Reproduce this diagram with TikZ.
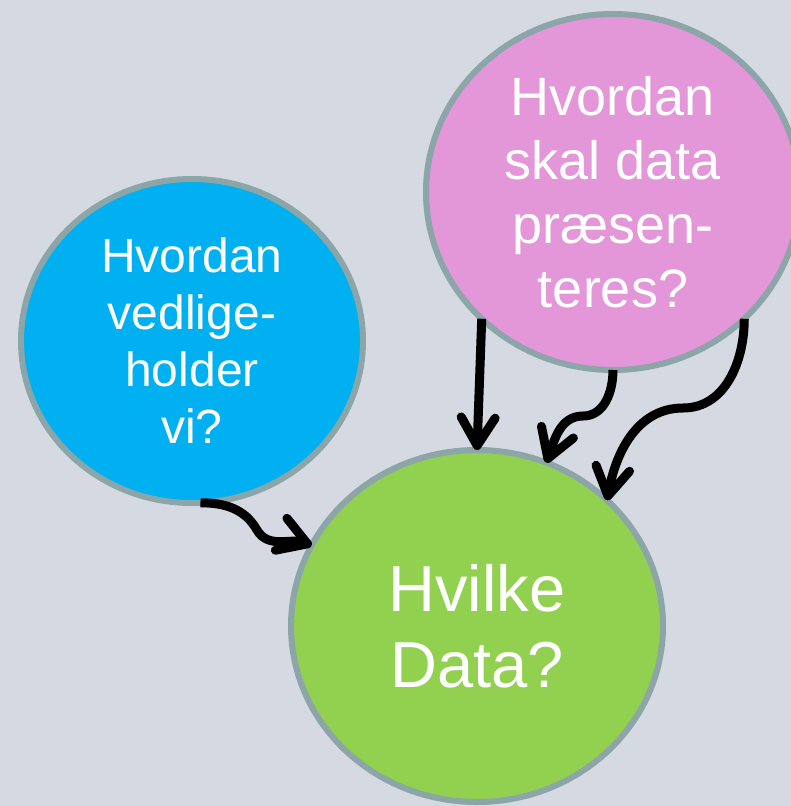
\documentclass[tikz,border=0pt]{standalone}
\usepackage{fontspec}
\setmainfont{Liberation Sans}
\usetikzlibrary{shapes.geometric,arrows.meta}
\definecolor{bgc}{HTML}{D5D9E1}
\definecolor{rimc}{HTML}{8BA5A8}
\definecolor{bluec}{HTML}{00B0F0}
\definecolor{pinkc}{HTML}{E396D8}
\definecolor{greenc}{HTML}{92D050}
\tikzset{
  bubble/.style={ellipse, draw=rimc, line width=6pt, inner sep=0pt, outer sep=0pt,
    text=white, align=center},
  conn/.style={line width=9pt, black, -{Straight Barb[length=28pt,width=34pt,round]}}
}
\begin{document}
\begin{tikzpicture}[x=1pt,y=1pt]
\fill[bgc] (0,0) rectangle (791,-806);
\useasboundingbox (0,0) rectangle (791,-806);
\node[bubble, fill=bluec, minimum width=342pt, minimum height=324pt,
  font=\fontsize{48}{57}\selectfont] (blue) at (192,-341) {Hvordan\\vedlige-\\holder\\vi?};
\node[bubble, fill=pinkc, minimum width=374pt, minimum height=356pt,
  font=\fontsize{54}{64}\selectfont] (pink) at (613,-192) {Hvordan\\skal data\\præsen-\\teres?};
\node[bubble, fill=greenc, minimum width=372pt, minimum height=352pt,
  font=\fontsize{65}{76}\selectfont] (green) at (477,-626) {Hvilke\\Data?};
\draw[conn] (blue.-87) to[out=0,in=120] (257,-530) to[out=-60,in=160] (green.154);
\draw[conn] (pink.-136) -- (green.90);
\draw[conn] (pink.-90) to[out=-90,in=0] (583,-416) to[out=180,in=70] (green.67);
\draw[conn] (pink.-44) to[out=-90,in=0] (683,-408) to[out=180,in=80] (green.44);
\end{tikzpicture}
\end{document}
